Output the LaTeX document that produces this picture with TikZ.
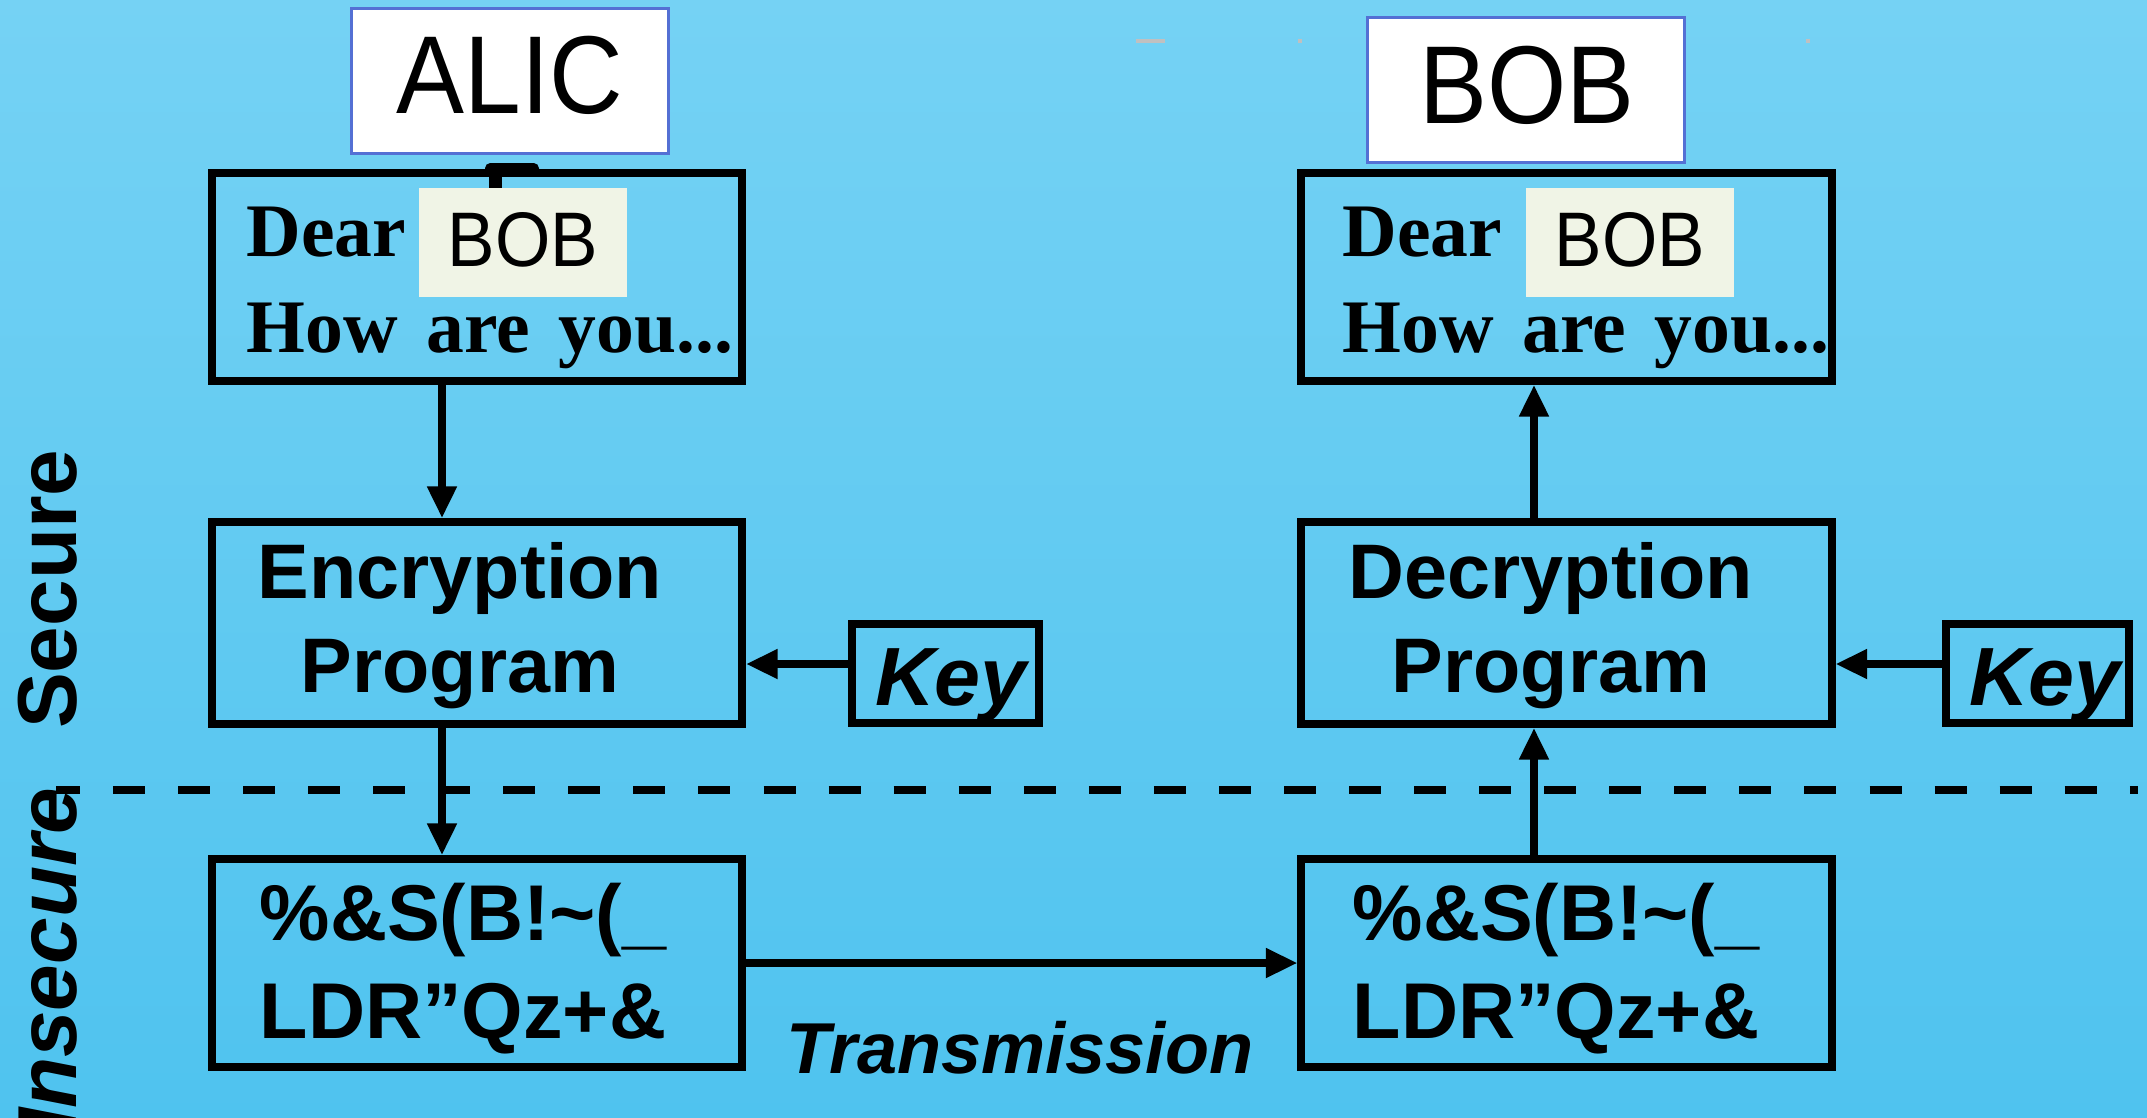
\documentclass[tikz,border=0pt]{standalone}
\usepackage{fontspec}
\setmainfont{Liberation Serif}
\newfontfamily\arialfont{Liberation Sans}
\newfontfamily\comicfont[FakeStretch=0.92]{Liberation Sans}
\usetikzlibrary{arrows.meta}
\definecolor{skytop}{RGB}{117,210,244}
\definecolor{skybot}{RGB}{79,195,239}
\definecolor{namerule}{RGB}{84,112,212}
\definecolor{notepaper}{RGB}{240,244,230}
\definecolor{speck}{RGB}{192,192,192}

\begin{document}
\begin{tikzpicture}[x=0.01cm,y=-0.01cm]
	\tikzstyle{every node}=[inner sep=0pt]
	\tikzstyle{box}=[draw,line width=2.2pt,minimum width=5.30cm]
	\tikzstyle{keybox}=[draw,line width=2.2pt,minimum height=0.99cm]
	\tikzstyle{namebox}=[draw=namerule,fill=white,line width=0.85pt,minimum width=3.17cm,minimum height=1.45cm]
	\tikzstyle{hl}=[fill=notepaper,minimum width=2.07cm,minimum height=1.09cm]
	\tikzstyle{bigname}=[font=\comicfont\fontsize{31.5}{36}\selectfont,anchor=base]
	\tikzstyle{smallname}=[font=\comicfont\fontsize{22}{26}\selectfont,anchor=base]
	\tikzstyle{letter}=[font=\bfseries\fontsize{21.5}{26}\selectfont,anchor=base west]
	\tikzstyle{prog}=[font=\arialfont\bfseries\fontsize{22}{26}\selectfont,anchor=base]
	\tikzstyle{code}=[font=\arialfont\bfseries\fontsize{22.5}{26}\selectfont,anchor=base]
	\tikzstyle{keytext}=[font=\arialfont\bfseries\itshape\fontsize{23.5}{28}\selectfont,anchor=base]
	\tikzstyle{zone}=[font=\arialfont\bfseries\fontsize{23.8}{28}\selectfont,rotate=90,anchor=base east]
	\tikzstyle{arr}=[line width=2.1pt,-{Triangle[length=9pt,width=8pt]}]

	\shade[top color=skytop,bottom color=skybot] (0,0) rectangle (2147,1117);
	\useasboundingbox (0,0) rectangle (2147,1117);
	\clip (0,0) rectangle (2147,1117);

	% specks at the top
	\fill[speck] (1136,39) rectangle (1165,43);
	\fill[speck] (1298,39) rectangle (1302,43);
	\fill[speck] (1806,39) rectangle (1810,43);

	% zones
	\draw[line width=2.3pt,dash pattern=on 9.1pt off 9.4pt,dash phase=2.3pt] (56,790) -- (2138,790);
	\node[zone] (secure) at (76,449) {Secure};
	\node[zone,font=\arialfont\bfseries\itshape\fontsize{23.8}{28}\selectfont] (insecure) at (76,787) {Insecure};

	% sender
	\node[namebox] (alic) at (510,81) {};
	\node[bigname] (alicname) at (510,113) {ALIC};
	\fill[rounded corners=1.5pt] (485,163) rectangle (539,176);
	\fill (489,170) rectangle (502,189);
	\node[box,minimum height=2.08cm] (lmsg) at (477,277) {};
	\node[hl] (lhl) at (523,242.5) {};
	\node[smallname] (lto) at (523,266) {BOB};
	\node[letter] (ldear) at (246,256) {Dear};
	\node[letter] (lhow) at (246,352) {How\hspace{0.38em}are\hspace{0.38em}you...};

	\node[box,minimum height=2.02cm] (enc) at (477,623) {};
	\node[prog] (enc1) at (460,598) {Encryption};
	\node[prog] (enc2) at (460,692) {Program};
	\node[keybox,minimum width=1.87cm] (lkey) at (945.5,673.5) {};
	\node[keytext] (lkeytext) at (951,705) {Key};

	\node[box,minimum height=2.08cm] (lcip) at (477,963) {};
	\node[code] (lcip1) at (463,940) {\%\&S(B!\char`\~(\_};
	\node[code] (lcip2) at (463,1038) {LDR”Qz+\&};

	% receiver
	\node[namebox] (bob) at (1526,90) {};
	\node[bigname] (bobname) at (1527,123) {BOB};
	\node[box,minimum height=2.08cm] (rmsg) at (1566.5,277) {};
	\node[hl] (rhl) at (1630,242.5) {};
	\node[smallname] (rto) at (1630,266) {BOB};
	\node[letter] (rdear) at (1342,256) {Dear};
	\node[letter] (rhow) at (1342,352) {How\hspace{0.38em}are\hspace{0.38em}you...};

	\node[box,minimum height=2.02cm] (dec) at (1566.5,623) {};
	\node[prog] (dec1) at (1551,598) {Decryption};
	\node[prog] (dec2) at (1551,692) {Program};
	\node[keybox,minimum width=1.83cm] (rkey) at (2037.5,673.5) {};
	\node[keytext] (rkeytext) at (2045,705) {Key};

	\node[box,minimum height=2.08cm] (rcip) at (1566.5,963) {};
	\node[code] (rcip1) at (1556,940) {\%\&S(B!\char`\~(\_};
	\node[code] (rcip2) at (1556,1038) {LDR”Qz+\&};

	\node[keytext,font=\arialfont\bfseries\itshape\fontsize{20.5}{24}\selectfont] (trans) at (1020,1073) {Transmission};

	% connectors
	\coordinate (lcol) at (442,0);
	\coordinate (rcol) at (1534,0);
	\coordinate (keyrow) at (0,664);
	\draw[arr] (lmsg.south -| lcol) -- (enc.north -| lcol);
	\draw[arr] (enc.south -| lcol) -- (lcip.north -| lcol);
	\draw[arr] (lkey.west |- keyrow) -- (enc.east |- keyrow);
	\draw[arr] (lcip.east) -- (rcip.west);
	\draw[arr] (rcip.north -| rcol) -- (dec.south -| rcol);
	\draw[arr] (dec.north -| rcol) -- (rmsg.south -| rcol);
	\draw[arr] (rkey.west |- keyrow) -- (dec.east |- keyrow);
\end{tikzpicture}
\end{document}
